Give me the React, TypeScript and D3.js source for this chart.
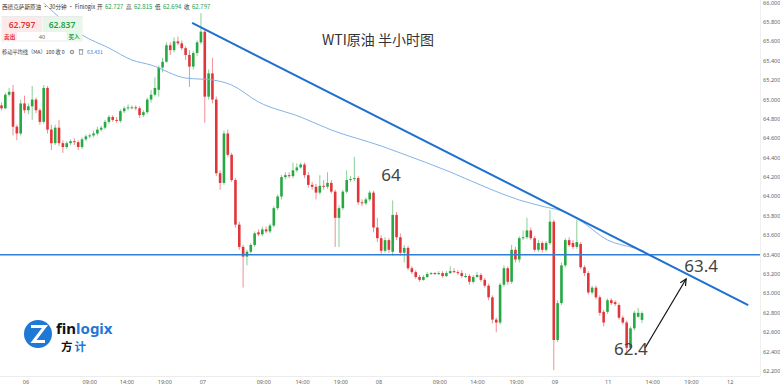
import React from 'react';
import * as d3 from 'd3';

// 30-minute WTI candles (prices)
const opens = [
  64.94, 64.91, 65.05, 65.08, 64.72, 64.65, 64.96, 64.89, 64.93, 65.00,
  64.89, 64.77, 65.12, 64.69, 64.55, 64.71, 64.55, 64.51, 64.55, 64.57,
  64.56, 64.51, 64.59, 64.62, 64.63, 64.65, 64.69, 64.71, 64.77, 64.82,
  64.79, 64.78, 64.88, 64.91, 64.92, 64.92, 64.91, 64.84, 64.87, 65.00,
  65.05, 65.10, 65.33, 65.39, 65.56, 65.51, 65.60, 65.58, 65.53, 65.46,
  65.34, 65.48, 65.59, 65.70, 65.03, 65.27, 65.00, 64.24, 64.14, 64.65,
  64.43, 64.17, 63.71, 63.48, 63.38, 63.43, 63.50, 63.63, 63.61, 63.66,
  63.64, 63.70, 63.88, 64.00, 64.20, 64.22, 64.21, 64.27, 64.30, 64.33,
  64.22, 64.12, 64.10, 64.04, 64.11, 64.10, 64.14, 64.05, 63.78, 63.88,
  64.05, 64.17, 64.18, 64.19, 63.94, 63.93, 63.97, 64.04, 63.68, 63.57,
  63.44, 63.55, 63.43, 63.81, 63.58, 63.42, 63.47, 63.26, 63.22, 63.17,
  63.14, 63.17, 63.20, 63.21, 63.20, 63.21, 63.18, 63.21, 63.23, 63.22,
  63.21, 63.18, 63.18, 63.12, 63.17, 63.19, 63.14, 63.08, 62.96, 62.73,
  62.70, 63.09, 63.26, 63.12, 63.45, 63.35, 63.57, 63.58, 63.65, 63.57,
  63.45, 63.52, 63.45, 63.52, 63.74, 62.52, 62.90, 63.29, 63.55, 63.52,
  63.48, 63.51, 63.27, 63.21, 63.01, 63.06, 62.96, 62.81, 62.81, 62.93,
  62.91, 62.88, 62.75, 62.70, 62.44, 62.64, 62.76, 62.727,
];
const highs = [
  64.97, 65.07, 65.12, 65.15, 64.74, 65.00, 65.04, 64.96, 65.14, 65.02,
  64.91, 65.15, 65.14, 64.74, 64.74, 64.79, 64.58, 64.57, 64.59, 64.60,
  64.58, 64.61, 64.64, 64.65, 64.68, 64.72, 64.73, 64.79, 64.84, 64.84,
  64.82, 64.90, 64.93, 64.95, 64.94, 64.94, 64.93, 64.89, 65.02, 65.10,
  65.23, 65.35, 65.43, 65.59, 65.59, 65.64, 65.65, 65.61, 65.55, 65.51,
  65.50, 65.61, 65.89, 65.72, 65.31, 65.43, 65.03, 64.27, 64.68, 64.69,
  64.45, 64.19, 63.74, 63.50, 63.45, 63.52, 63.64, 63.66, 63.69, 63.69,
  63.72, 63.90, 64.02, 64.22, 64.25, 64.25, 64.35, 64.34, 64.35, 64.35,
  64.25, 64.15, 64.13, 64.22, 64.17, 64.25, 64.17, 64.07, 63.91, 64.07,
  64.27, 64.21, 64.41, 64.21, 63.97, 63.99, 64.06, 64.06, 63.78, 63.60,
  63.58, 63.57, 63.96, 63.84, 63.62, 63.50, 63.49, 63.28, 63.24, 63.19,
  63.19, 63.22, 63.22, 63.22, 63.23, 63.23, 63.23, 63.28, 63.26, 63.24,
  63.24, 63.21, 63.20, 63.19, 63.22, 63.21, 63.16, 63.10, 62.98, 62.75,
  63.11, 63.29, 63.28, 63.50, 63.48, 63.59, 63.65, 63.78, 63.68, 63.59,
  63.55, 63.54, 63.54, 63.86, 63.76, 62.93, 63.32, 63.57, 63.58, 63.55,
  63.76, 63.53, 63.29, 63.23, 63.08, 63.08, 62.98, 62.83, 62.95, 62.95,
  62.93, 62.90, 62.77, 62.72, 62.66, 62.82, 62.85, 62.815,
];
const lows = [
  64.89, 64.90, 65.03, 64.63, 64.58, 64.63, 64.86, 64.85, 64.79, 64.86,
  64.74, 64.75, 64.65, 64.48, 64.53, 64.52, 64.45, 64.49, 64.53, 64.53,
  64.48, 64.49, 64.57, 64.60, 64.61, 64.63, 64.67, 64.69, 64.75, 64.77,
  64.76, 64.76, 64.86, 64.89, 64.90, 64.89, 64.81, 64.82, 64.85, 64.97,
  65.03, 65.03, 65.28, 65.38, 65.46, 65.49, 65.56, 65.51, 65.41, 65.13,
  65.31, 65.45, 65.57, 64.76, 65.00, 64.96, 64.21, 64.07, 64.12, 64.41,
  64.15, 63.68, 63.45, 63.06, 63.29, 63.41, 63.48, 63.59, 63.59, 63.62,
  63.62, 63.68, 63.86, 63.97, 64.18, 64.19, 64.19, 64.25, 64.29, 64.19,
  64.09, 64.07, 63.97, 64.02, 64.07, 64.08, 64.03, 63.48, 63.48, 63.86,
  64.03, 64.15, 64.16, 63.91, 63.90, 63.91, 63.95, 63.63, 63.53, 63.41,
  63.42, 63.42, 63.39, 63.55, 63.39, 63.32, 63.24, 63.20, 63.15, 63.12,
  63.13, 63.16, 63.19, 63.19, 63.19, 63.16, 63.17, 63.20, 63.21, 63.19,
  63.16, 63.16, 63.09, 63.10, 63.16, 63.12, 63.06, 62.93, 62.69, 62.60,
  62.68, 63.07, 63.09, 63.10, 63.32, 63.32, 63.55, 63.56, 63.55, 63.43,
  63.43, 63.42, 63.43, 63.50, 62.21, 62.50, 62.88, 63.27, 63.48, 63.46,
  63.46, 63.25, 63.18, 62.99, 62.99, 62.94, 62.77, 62.66, 62.79, 62.88,
  62.87, 62.73, 62.68, 62.39, 62.42, 62.62, 62.75, 62.694,
];
const closes = [
  64.91, 65.05, 65.08, 64.72, 64.65, 64.96, 64.89, 64.93, 65.00, 64.89,
  64.77, 65.12, 64.69, 64.55, 64.71, 64.55, 64.51, 64.55, 64.57, 64.56,
  64.51, 64.59, 64.62, 64.63, 64.65, 64.69, 64.71, 64.77, 64.82, 64.79,
  64.78, 64.88, 64.91, 64.92, 64.92, 64.91, 64.84, 64.87, 65.00, 65.05,
  65.12, 65.33, 65.39, 65.56, 65.51, 65.60, 65.58, 65.53, 65.46, 65.34,
  65.48, 65.59, 65.70, 65.03, 65.27, 65.00, 64.24, 64.14, 64.65, 64.43,
  64.17, 63.71, 63.48, 63.38, 63.43, 63.50, 63.62, 63.61, 63.66, 63.64,
  63.70, 63.88, 64.00, 64.20, 64.22, 64.21, 64.27, 64.30, 64.33, 64.22,
  64.12, 64.10, 64.04, 64.11, 64.10, 64.14, 64.05, 63.78, 63.88, 64.05,
  64.17, 64.18, 64.19, 63.94, 63.93, 63.97, 64.04, 63.68, 63.57, 63.44,
  63.55, 63.45, 63.81, 63.58, 63.42, 63.47, 63.26, 63.22, 63.17, 63.14,
  63.17, 63.20, 63.21, 63.20, 63.21, 63.18, 63.21, 63.23, 63.22, 63.21,
  63.18, 63.18, 63.12, 63.17, 63.19, 63.14, 63.08, 62.96, 62.73, 62.70,
  63.09, 63.26, 63.12, 63.45, 63.35, 63.57, 63.58, 63.65, 63.57, 63.45,
  63.52, 63.45, 63.52, 63.74, 62.52, 62.90, 63.29, 63.55, 63.50, 63.48,
  63.53, 63.27, 63.21, 63.01, 63.06, 62.96, 62.80, 62.70, 62.93, 62.90,
  62.89, 62.75, 62.70, 62.44, 62.64, 62.80, 62.80, 62.797,
];

// MA(100) line, read at a few candle positions
const maIdx = [11, 21, 28, 34, 39, 48, 55, 60, 67, 78, 86, 99, 104, 117, 128, 135, 142, 147, 151, 158, 165, 167.5];
const maVal = [65.996, 65.666, 65.532, 65.408, 65.356, 65.222, 65.202, 65.15, 64.975, 64.82, 64.686, 64.521, 64.449, 64.253, 64.067, 63.964, 63.89, 63.84, 63.75, 63.551, 63.469, 63.438];

// drawn annotations
const trendIdx = [49.7, 194.7];
const trendPrice = [65.79, 62.88];
const levelPrice = 63.4;
const arrowIdx = [167.8, 178.5];
const arrowPrice = [62.437, 63.149];

// axes
const priceTicks = d3.range(62.2, 66.01, 0.2);
const timeTickIdx = [6.4, 23.0, 32.7, 42.6, 52.5, 68.4, 78.5, 88.5, 98.4, 114.3, 124.1, 134.3, 144.3, 158.2, 169.8, 179.9, 190.0];
const timeTickLabels = ['06', '09:00', '14:00', '19:00', '07', '09:00', '14:00', '19:00', '08', '09:00', '14:00', '19:00', '09', '11', '14:00', '19:00', '12'];

// header quote
const quoteLabels = ['开', '高', '低', '收'];
const quoteValues = ['62.727', '62.815', '62.694', '62.797'];

const W = 780;
const H = 389;
const UP = '#26a843';
const DOWN = '#e2353a';
const SANS = '"Noto Sans", "Noto Sans CJK SC", sans-serif';
const CJK = '"Noto Sans CJK SC", "Noto Sans", sans-serif';

const App: React.FC = () => {
  const n = closes.length;
  const x = d3.scaleLinear().domain([0, n - 1]).range([1.5, 642]);
  const y = d3.scaleLinear().domain([62.2, 65.8]).range([371, 22]);
  const bodyW = 2.6;

  const maLine = d3.line<number>()
    .x((_, i) => x(maIdx[i]))
    .y(d => y(d))
    .curve(d3.curveMonotoneX);

  const candles = closes.map((c, i) => {
    const o = opens[i];
    const up = c >= o;
    const col = up ? UP : DOWN;
    const top = y(Math.max(o, c));
    const h = Math.max(1, y(Math.min(o, c)) - top);
    const cx = x(i);
    return (
      <g key={i}>
        <line x1={cx} x2={cx} y1={y(highs[i])} y2={y(lows[i])} stroke={col} strokeOpacity={0.55} strokeWidth={1} />
        <rect x={cx - bodyW / 2} y={top} width={bodyW} height={h} fill={col} />
      </g>
    );
  });

  const ax0 = x(arrowIdx[0]);
  const ay0 = y(arrowPrice[0]);
  const ax1 = x(arrowIdx[1]);
  const ay1 = y(arrowPrice[1]);
  const ang = Math.atan2(ay1 - ay0, ax1 - ax0);
  const head = (a: number) => `${ax1 - 7 * Math.cos(ang + a)},${ay1 - 7 * Math.sin(ang + a)}`;

  return (
    <div style={{ position: 'fixed', left: 0, top: 0, width: W, height: H, background: '#fff' }}>
      <svg width={W} height={H} style={{ display: 'block' }}>
        <rect width={W} height={H} fill="#fff" />

        {/* axis borders */}
        <line x1={0} x2={760} y1={376.5} y2={376.5} stroke="#ececec" />
        <line x1={760.5} x2={760.5} y1={0} y2={376.5} stroke="#f0f0f0" />

        {/* price axis */}
        {priceTicks.map(v => (
          <text key={v.toFixed(1)} x={763} y={y(v)} dy="0.35em" fontSize={5.6} fill="#666" fontFamily={SANS}>
            {v.toFixed(3)}
          </text>
        ))}

        {/* time axis */}
        {timeTickIdx.map((t, i) => (
          <text key={i} x={x(t)} y={383.5} textAnchor="middle" fontSize={5.6} fill="#666" fontFamily={SANS}>
            {timeTickLabels[i]}
          </text>
        ))}

        {candles}

        <path d={maLine(maVal) ?? ''} fill="none" stroke="#86b3e6" strokeWidth={1} />

        <line x1={0} x2={760} y1={y(levelPrice)} y2={y(levelPrice)} stroke="#2f7fd6" strokeWidth={1.5} />

        <line x1={x(trendIdx[0])} y1={y(trendPrice[0])} x2={x(trendIdx[1])} y2={y(trendPrice[1])}
          stroke="#1f6fd0" strokeWidth={2} />

        {/* arrow */}
        <line x1={ax0} y1={ay0} x2={ax1} y2={ay1} stroke="#111" strokeWidth={1.2} />
        <polyline points={`${head(0.45)} ${ax1},${ay1} ${head(-0.45)}`} fill="none" stroke="#111" strokeWidth={1.2} />

        {/* annotations */}
        <text x={378} y={45} textAnchor="middle" fontSize={14} fill="#333" fontFamily={CJK}>WTI原油 半小时图</text>
        <text x={x(99)} y={y(64.16)} fontSize={17} fill="#444" fontFamily={SANS}>64</text>
        <text x={x(178)} y={y(63.22)} fontSize={17} fill="#444" fontFamily={SANS}>63.4</text>
        <text x={x(159.7)} y={y(62.36)} fontSize={17} fill="#444" fontFamily={SANS}>62.4</text>

        {/* header */}
        <g fontFamily={CJK} fontSize={5.6}>
          <text x={2} y={9} fill="#333">西德克萨斯原油 · 30分钟 · Finlogix</text>
          {quoteLabels.map((l, i) => (
            <g key={l}>
              <text x={97 + i * 29} y={9} fill="#333">{l}</text>
              <text x={105 + i * 29} y={9} fill="#22a04a" fontSize={6}>{quoteValues[i]}</text>
            </g>
          ))}
        </g>

        {/* buy / sell box */}
        <g>
          <rect x={2} y={16.5} width={80} height={24.5} fill="#fff" stroke="#e6e6e6" strokeWidth={0.8} />
          <rect x={2.5} y={17} width={39.5} height={15} fill="#fde9ea" />
          <rect x={42.5} y={17} width={39} height={15} fill="#e6f7ea" />
          <rect x={2.5} y={32} width={14.5} height={8.5} fill="#fde9ea" />
          <rect x={66.5} y={32} width={15} height={8.5} fill="#e6f7ea" />
          <text x={22} y={27.5} textAnchor="middle" fontSize={8.5} fontWeight={600} fill="#e2353a" fontFamily={SANS}>62.797</text>
          <text x={62} y={27.5} textAnchor="middle" fontSize={8.5} fontWeight={600} fill="#22a04a" fontFamily={SANS}>62.837</text>
          <text x={9.7} y={38.6} textAnchor="middle" fontSize={5.6} fontWeight={700} fill="#e2353a" fontFamily={CJK}>卖出</text>
          <text x={42} y={38.6} textAnchor="middle" fontSize={5.6} fill="#666" fontFamily={SANS}>40</text>
          <text x={74} y={38.6} textAnchor="middle" fontSize={5.6} fontWeight={700} fill="#22a04a" fontFamily={CJK}>买入</text>
        </g>

        {/* MA legend */}
        <g fontFamily={CJK} fontSize={5.2}>
          <text x={2} y={54} fill="#444">移动平均线（MA）100 收 0</text>
          <circle cx={72} cy={52} r={2.2} fill="#999" />
          <circle cx={72} cy={52} r={0.9} fill="#fff" />
          <rect x={79.3} y={50} width={3.4} height={4.2} fill="none" stroke="#888" strokeWidth={0.7} />
          <line x1={78.6} x2={83.4} y1={49.6} y2={49.6} stroke="#888" strokeWidth={0.7} />
          <text x={87} y={54} fill="#3d86d8">63.431</text>
        </g>

        {/* logo */}
        <g>
          <circle cx={38} cy={334} r={14} fill="#1f78d6" />
          <path d="M31,326.5 H45 L33.5,341.5 H45" fill="none" stroke="#fff" strokeWidth={3} strokeLinejoin="miter" />
          <text x={56} y={334} fontSize={15} fontWeight={700} fontFamily={SANS}>
            <tspan fill="#111">fin</tspan><tspan fill="#1f78d6">logix</tspan>
          </text>
          <text x={61} y={351} fontSize={11.5} fontWeight={700} fontFamily={CJK}>
            <tspan fill="#111">方</tspan><tspan fill="#1f78d6" dx={2}>计</tspan>
          </text>
        </g>
      </svg>
    </div>
  );
};

export default App;
